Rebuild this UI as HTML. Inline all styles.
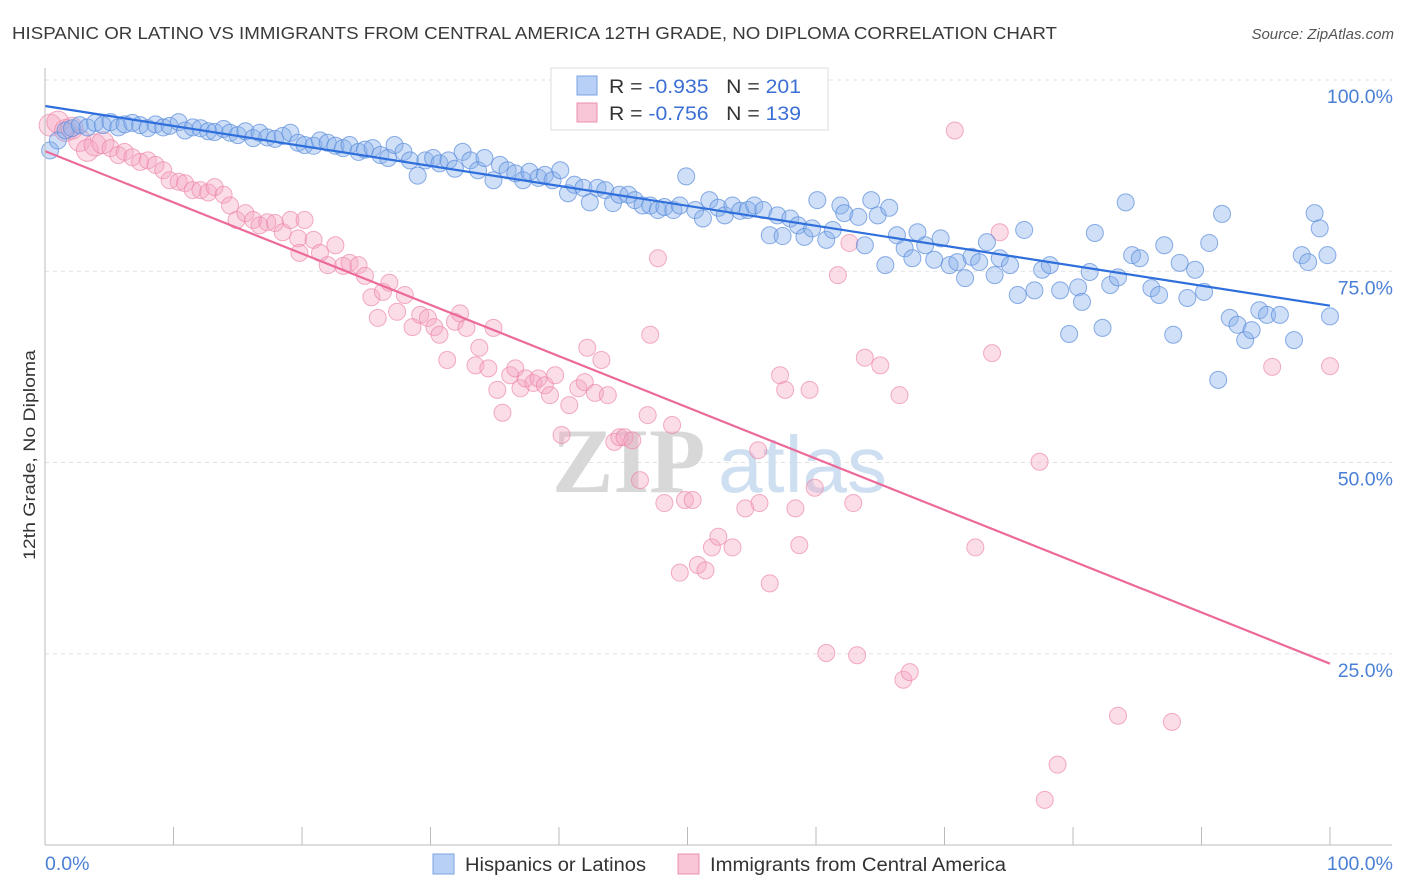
<!DOCTYPE html>
<html><head><meta charset="utf-8">
<style>
body{margin:0;background:#fff;font-family:"Liberation Sans",sans-serif;}
#wrap{position:relative;width:1406px;height:892px;overflow:hidden;}
</style></head>
<body>
<div id="wrap">
<svg id="chart" width="1406" height="892">
  <text x="12" y="39" font-size="17.5" fill="#3a3a3a" textLength="1045" lengthAdjust="spacingAndGlyphs">HISPANIC OR LATINO VS IMMIGRANTS FROM CENTRAL AMERICA 12TH GRADE, NO DIPLOMA CORRELATION CHART</text>
  <text x="1394" y="39" font-size="15" fill="#555" text-anchor="end" font-style="italic">Source: ZipAtlas.com</text>
  <text transform="translate(35,455) rotate(-90)" font-size="17" fill="#333" text-anchor="middle" textLength="210" lengthAdjust="spacingAndGlyphs">12th Grade, No Diploma</text>
  <g id="grid"></g>
  <g id="watermark">
    <text x="552" y="492" font-size="92" fill="#d8d8d8" font-family="Liberation Serif,serif" font-weight="bold">ZIP</text>
    <text x="718" y="492" font-size="80" fill="#cfdff2">atlas</text>
  </g>
  <g id="pinkPts"></g>
  <g id="bluePts"></g>
  <g id="lines"></g>
  <g id="axes"></g>
  <g>
    <rect x="551" y="68" width="277" height="62" fill="#fff" stroke="#ddd"/>
    <rect x="577" y="76" width="20" height="19" fill="#b8d0f5" stroke="#7aa3e0"/>
    <text x="609" y="93" font-size="19.5" fill="#333" textLength="192" lengthAdjust="spacingAndGlyphs">R = <tspan fill="#3b6fd4">-0.935</tspan>&#160;&#160;&#160;N = <tspan fill="#3b6fd4">201</tspan></text>
    <rect x="577" y="103" width="20" height="19" fill="#f8c6d6" stroke="#ec8fae"/>
    <text x="609" y="120" font-size="19.5" fill="#333" textLength="192" lengthAdjust="spacingAndGlyphs">R = <tspan fill="#3b6fd4">-0.756</tspan>&#160;&#160;&#160;N = <tspan fill="#3b6fd4">139</tspan></text>
  </g>
  <g>
    <rect x="433" y="854" width="21" height="20" fill="#b8d0f5" stroke="#7aa3e0"/>
    <text x="465" y="871" font-size="19" fill="#333" textLength="181" lengthAdjust="spacingAndGlyphs">Hispanics or Latinos</text>
    <rect x="678" y="854" width="21" height="20" fill="#f8c6d6" stroke="#ec8fae"/>
    <text x="710" y="871" font-size="19" fill="#333" textLength="296" lengthAdjust="spacingAndGlyphs">Immigrants from Central America</text>
  </g>
</svg>
</div>
<script>
const yTicks=[25,50,75,100];
const yTickLabels=["25.0%","50.0%","75.0%","100.0%"];
const xTicks=[0,10,20,30,40,50,60,70,80,90,100];
const blueX=[0.4,1.0,1.6,2.1,2.7,3.3,3.9,4.5,5.1,5.7,6.2,6.8,7.4,8.0,8.6,9.2,9.7,10.4,10.9,11.5,12.1,12.7,13.2,13.9,14.4,15.0,15.6,16.2,16.7,17.3,17.9,18.5,19.1,19.7,20.2,20.9,21.4,22.0,22.6,23.2,23.7,24.4,24.9,25.5,26.1,26.7,27.2,27.9,28.4,29.0,29.6,30.2,30.7,31.4,31.9,32.5,33.1,33.7,34.2,34.9,35.4,36.0,36.6,37.2,37.7,38.4,38.9,39.5,40.1,40.7,41.2,41.9,42.4,43.0,43.6,44.2,44.7,45.4,45.9,46.5,47.1,47.7,48.2,48.9,49.4,49.9,50.6,51.2,51.7,52.4,52.9,53.5,54.1,54.7,55.2,55.9,56.4,57.0,57.4,58.0,58.6,59.1,59.7,60.1,60.8,61.3,61.9,62.2,63.3,63.8,64.3,64.8,65.4,65.7,66.3,66.9,67.5,67.9,68.5,69.2,69.7,70.4,71.0,71.6,72.1,72.7,73.3,73.9,74.3,75.1,75.7,76.2,77.0,77.6,78.2,79.0,79.7,80.4,80.7,81.3,81.7,82.3,82.9,83.5,84.1,84.6,85.2,86.1,86.7,87.1,87.8,88.3,88.9,89.5,90.2,90.6,91.3,91.6,92.2,92.8,93.4,93.9,94.5,95.1,96.1,97.2,97.8,98.3,98.8,99.2,99.8,100];
const blueY=[90.8,92.1,93.4,93.7,94.1,93.8,94.4,94.1,94.5,93.8,94.2,94.4,94.1,93.7,94.2,93.8,94.0,94.5,93.4,93.8,93.7,93.3,93.2,93.6,93.1,92.8,93.3,92.4,93.1,92.5,92.3,92.7,93.1,91.8,91.5,91.4,92.1,91.8,91.4,91.1,91.5,90.6,90.9,91.1,90.2,89.8,91.5,90.6,89.5,87.5,89.5,89.8,89.1,89.5,88.4,90.6,89.5,88.2,89.8,86.9,88.9,88.2,87.8,86.9,88.0,87.2,87.6,86.9,88.2,85.2,86.3,85.9,84.0,85.9,85.6,83.9,85.0,85.0,84.3,83.6,83.6,83.0,83.4,83.0,83.6,87.4,83.0,81.9,84.3,83.3,82.3,83.6,82.9,83.0,83.6,83.0,79.7,82.3,79.6,81.9,81.0,79.5,80.6,84.3,79.1,80.4,83.6,82.6,82.1,78.4,84.3,82.3,75.8,83.3,79.7,78.0,76.7,80.1,78.4,76.5,79.3,75.8,76.2,74.1,76.9,76.2,78.8,74.5,76.7,75.8,71.9,80.4,72.5,75.2,75.8,72.5,66.8,72.9,71.0,74.9,80.0,67.6,73.2,74.2,84.0,77.1,76.7,72.8,71.9,78.4,66.7,76.1,71.5,75.2,72.3,78.7,60.8,82.5,68.9,68.0,66.0,67.3,69.9,69.3,69.3,66.0,77.1,76.2,82.6,80.6,77.1,69.1];
const pinkX=[0.4,1.0,1.6,2.1,2.7,3.3,3.9,4.5,5.1,5.7,6.2,6.8,7.4,8.0,8.6,9.2,9.7,10.4,10.9,11.5,12.1,12.7,13.2,13.9,14.4,14.9,15.6,16.2,16.7,17.3,17.9,18.5,19.1,19.7,20.2,19.8,20.9,21.4,22.0,22.6,23.2,23.7,24.4,24.9,25.4,25.9,26.3,26.8,27.4,28.0,28.6,29.2,29.8,30.3,30.7,31.3,31.9,32.3,32.8,33.5,33.8,34.5,34.9,35.2,35.6,36.2,36.6,37.0,37.4,38.0,38.4,38.9,39.3,39.7,40.2,40.8,41.5,42.0,42.2,42.8,43.3,43.8,44.3,44.7,45.1,45.7,46.3,46.9,47.1,47.7,48.2,48.8,49.4,49.8,50.4,50.8,51.4,51.9,52.4,53.5,54.5,55.5,55.6,56.4,57.2,57.6,58.4,58.7,59.5,59.9,60.8,61.7,62.6,62.9,63.2,63.8,65.0,66.5,66.8,67.3,70.8,72.4,73.7,74.3,77.4,77.8,78.8,83.5,87.7,95.5,100,54.5];
const pinkY=[94.1,94.5,93.4,93.7,92.1,90.8,91.5,91.8,91.1,90.2,90.6,89.9,89.3,89.5,88.9,88.2,86.9,86.7,86.5,85.6,85.6,85.3,86.0,85.0,83.6,81.7,82.6,81.7,81.0,81.4,81.3,80.1,81.7,79.3,81.7,77.4,79.1,77.4,75.8,78.4,75.7,76.1,75.8,74.4,71.6,68.9,72.3,73.5,69.7,71.9,67.7,69.3,68.9,67.7,66.7,63.4,68.4,69.5,67.6,62.7,65.0,62.3,67.6,59.5,56.5,61.4,62.3,59.7,61.0,60.4,61.0,60.1,58.8,61.4,53.6,57.5,59.7,60.5,65.0,59.1,63.4,58.8,52.7,53.3,53.3,52.9,47.7,56.2,66.7,76.7,44.7,54.9,35.6,45.1,45.1,36.6,35.9,38.9,40.3,38.9,44.0,51.6,44.7,34.2,61.4,59.5,44.0,39.2,59.5,46.7,25.1,74.5,78.7,44.7,24.8,63.7,62.7,58.8,21.6,22.6,93.4,38.9,64.3,80.1,50.1,5.9,10.5,16.9,16.1,62.5,62.6,100];
const blueTrend=[96.6,70.5];
const pinkTrend=[90.7,23.7];

const NS="http://www.w3.org/2000/svg";
const X0=45,X1=1330,Y0=845,Y100=80;
function sx(v){return X0+(X1-X0)*v/100;}
function sy(v){return Y0-(Y0-Y100)*v/100;}
function mk(tag,attrs,parent){const e=document.createElementNS(NS,tag);for(const k in attrs)e.setAttribute(k,attrs[k]);parent.appendChild(e);return e;}

const grid=document.getElementById('grid');
yTicks.forEach((t,i)=>{
  const l=mk('line',{x1:X0,x2:1392,y1:sy(t),y2:sy(t),stroke:'#e2e2e2','stroke-dasharray':'4,4'},grid);
  
  
  const tx=mk('text',{x:1393,y:sy(t)+23,'font-size':19.5,fill:'#4a7fd6','text-anchor':'end'},grid);
  tx.textContent=yTickLabels[i];
  
  
});
const axes=document.getElementById('axes');
const xa=mk('line',{x1:X0,x2:1392,y1:Y0,y2:Y0,stroke:'#bbb'},axes);


const ya=mk('line',{x1:X0,x2:X0,y1:68,y2:Y0,stroke:'#bbb'},axes);


xTicks.forEach(t=>{
  const tk=mk('line',{x1:sx(t),x2:sx(t),y1:Y0-18,y2:Y0,stroke:'#bbb'},axes);
  
  
});
const xl0=mk('text',{x:45,y:870,'font-size':19.5,fill:'#4a7fd6'},axes);xl0.textContent='0.0%';


const xl1=mk('text',{x:1393,y:870,'font-size':19.5,fill:'#4a7fd6','text-anchor':'end'},axes);xl1.textContent='100.0%';



const pg=document.getElementById('pinkPts');
pinkX.forEach((x,i)=>{
  const big=(x<5&&pinkY[i]>90);
  const c=mk('circle',{cx:sx(x),cy:sy(pinkY[i]),r:big?11:8.5,fill:'rgba(245,165,195,0.38)',stroke:'rgba(236,130,165,0.65)','stroke-width':1},pg);
  
  
});
const bg=document.getElementById('bluePts');
blueX.forEach((x,i)=>{
  const c=mk('circle',{cx:sx(x),cy:sy(blueY[i]),r:8.5,fill:'rgba(135,175,235,0.4)',stroke:'rgba(90,140,220,0.7)','stroke-width':1},bg);
  
  
});
const lg=document.getElementById('lines');
const bl=mk('line',{x1:sx(0),y1:sy(blueTrend[0]),x2:sx(100),y2:sy(blueTrend[1]),stroke:'#2f6fdc','stroke-width':2.2},lg);


const pl=mk('line',{x1:sx(0),y1:sy(pinkTrend[0]),x2:sx(100),y2:sy(pinkTrend[1]),stroke:'#ec6a9a','stroke-width':2.2},lg);


</script>
</body></html>
